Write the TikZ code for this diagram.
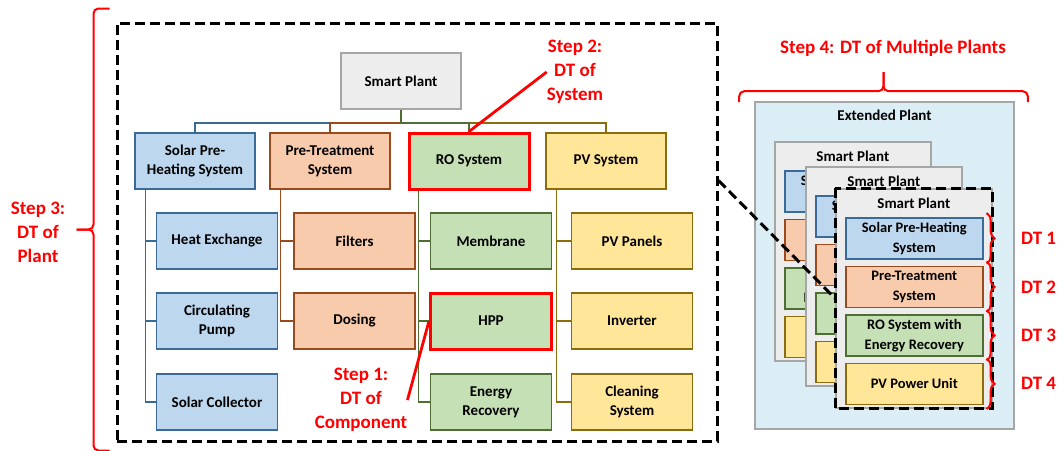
\documentclass[tikz,border=0pt]{standalone}
\usepackage{fontspec}
\setmainfont{Carlito}
\usetikzlibrary{calc,decorations.pathreplacing}
\definecolor{bluefill}{HTML}{BDD7EE}
\definecolor{blueline}{HTML}{3A6A98}
\definecolor{orangefill}{HTML}{F8CBAD}
\definecolor{orangeline}{HTML}{9A4A1C}
\definecolor{greenfill}{HTML}{C5E0B4}
\definecolor{greenline}{HTML}{4F6E33}
\definecolor{yellowfill}{HTML}{FFE699}
\definecolor{yellowline}{HTML}{8C6D0E}
\definecolor{grayfill}{HTML}{EDEDED}
\definecolor{grayline}{HTML}{A6A6A6}
\definecolor{skyfill}{HTML}{DCEEF5}
\definecolor{stepred}{HTML}{FF0000}
\tikzset{
  boxtext/.style={font=\fontsize{15}{19}\selectfont\bfseries,align=center},
  cell/.style={boxtext,line width=1.6pt,minimum width=120pt,minimum height=56pt},
  solarcell/.style={cell,draw=blueline,fill=bluefill},
  treatcell/.style={cell,draw=orangeline,fill=orangefill},
  rocell/.style={cell,draw=greenline,fill=greenfill},
  pvcell/.style={cell,draw=yellowline,fill=yellowfill},
  graycell/.style={cell,draw=grayline,fill=grayfill},
  picked/.style={draw=stepred,line width=3pt},
  slab/.style={minimum width=137pt,minimum height=41pt,anchor=north west,
    line width=1.6pt,align=center,font=\fontsize{14.5}{20}\selectfont\bfseries},
  solarwire/.style={blueline,line width=1.4pt},
  treatwire/.style={orangeline,line width=1.4pt},
  rowire/.style={greenline,line width=1.4pt},
  pvwire/.style={yellowline,line width=1.4pt},
  zoomline/.style={draw=black,line width=3pt,dash pattern=on 10pt off 5pt},
  steptext/.style={text=stepred,font=\fontsize{19}{24}\selectfont\bfseries,align=center,inner sep=0pt},
  stepline/.style={stepred,line width=2.8pt},
  bracket/.style={stepred,line width=2pt,rounded corners=5pt},
  dtbrace/.style={stepred,line width=2pt,decorate,decoration={brace,amplitude=8pt}}
}
\begin{document}
\begin{tikzpicture}[x=1pt,y=-1pt,every node/.style={inner sep=2pt}]
  \fill[white](0,0)rectangle(1060,450);
  \useasboundingbox(0,0)rectangle(1060,450);
  % plant level frame
  \node[zoomline,minimum width=600pt,minimum height=418pt](plantbox)at(417,232){};
  \node[graycell](sp)at(401,81){Smart Plant};
  \node[solarcell](solar)at(195,161){Solar Pre-\\Heating System};
  \node[treatcell](treat)at(330,161){Pre-Treatment\\System};
  \node[rocell,picked](rosys)at(469,161){RO System};
  \node[pvcell](pvsys)at(606,161){PV System};
  \draw[solarwire](sp.south)--++(0,13)-|(solar.north);
  \draw[treatwire](sp.south)--++(0,13)-|(treat.north);
  \draw[pvwire](sp.south)--++(0,13)-|(pvsys.north);
  \draw[rowire](sp.south)--++(0,13)-|(rosys.north);
  % components
  \node[solarcell,minimum width=121pt](hx)at(217,241){Heat Exchange};
  \node[solarcell,minimum width=121pt](pump)at(217,321){Circulating\\Pump};
  \node[solarcell,minimum width=121pt](collector)at(217,402){Solar Collector};
  \node[treatcell,minimum width=121pt](filters)at(354.5,241){Filters};
  \node[treatcell,minimum width=121pt](dosing)at(354.5,321){Dosing};
  \node[rocell,minimum width=121pt](membrane)at(491,241){Membrane};
  \node[rocell,picked,minimum width=121pt](hpp)at(491,321){HPP};
  \node[rocell,minimum width=121pt](recovery)at(491,402){Energy\\Recovery};
  \node[pvcell,minimum width=121pt](panels)at(632,241){PV Panels};
  \node[pvcell,minimum width=121pt](inverter)at(632,321){Inverter};
  \node[pvcell,minimum width=121pt](cleaning)at(632,402){Cleaning\\System};
  \foreach \c in {hx,pump,collector}
    \draw[solarwire]([xshift=11pt]solar.south west)|-(\c.west);
  \foreach \c in {filters,dosing}
    \draw[treatwire]([xshift=11pt]treat.south west)|-(\c.west);
  \foreach \c in {membrane,hpp,recovery}
    \draw[rowire]([xshift=11pt]rosys.south west)|-(\c.west);
  \foreach \c in {panels,inverter,cleaning}
    \draw[pvwire]([xshift=11pt]pvsys.south west)|-(\c.west);
  % steps 1-3
  \node[steptext](step1)at(361,400){Step 1:\\DT of\\Component};
  \draw[stepline](step1.east)--(hpp.west);
  \node[steptext](step2)at(575,72){Step 2:\\DT of\\System};
  \draw[stepline](step2.west)--(rosys.north);
  \node[steptext](step3)at(38,232){Step 3:\\DT of\\Plant};
  \coordinate(b3top)at([xshift=-6pt,yshift=13pt]plantbox.north west);
  \coordinate(b3bot)at([xshift=-6pt,yshift=-8pt]plantbox.south west);
  \coordinate(b3tip)at($(b3top)!.5!(b3bot)+(-33,0)$);
  \draw[bracket](b3top)--++(-16,0)|-($(b3tip)+(0,0)$);
  \draw[bracket](b3bot)--++(-16,0)|-(b3tip);
  % multiple plants
  \node[draw=grayline,fill=skyfill,line width=1.6pt,minimum width=259pt,
    minimum height=327pt](ext)at(884.5,265.5){};
  \node[boxtext](exttitle)at([yshift=-14pt]ext.north){Extended Plant};
  \foreach \x/\y/\n in {774/141/pa,805/166/pb,835/188/pc}{
    \node[draw=grayline,fill=grayfill,line width=1.6pt,minimum width=156pt,
      minimum height=219pt,anchor=north west](\n)at(\x,\y){};
    \node[boxtext]at([yshift=-15pt]\n.north){Smart Plant};
    \node[slab,draw=blueline,fill=bluefill](\n1)
      at([xshift=10pt,yshift=-29pt]\n.north west){Solar Pre-Heating\\System};
    \node[slab,draw=orangeline,fill=orangefill](\n2)
      at([yshift=-48.5pt]\n1.north west){Pre-Treatment\\System};
    \node[slab,draw=greenline,fill=greenfill](\n3)
      at([yshift=-48.5pt]\n2.north west){RO System with\\Energy Recovery};
    \node[slab,draw=yellowline,fill=yellowfill](\n4)
      at([yshift=-48.5pt]\n3.north west){PV Power Unit};
  }
  \draw[zoomline](pc.north west)rectangle(pc.south east);
  \coordinate(zoomfrom)at([yshift=-159pt]plantbox.north east);
  \draw[zoomline](zoomfrom)--(pc.west);
  \foreach \k in {1,2,3,4}{
    \draw[dtbrace]([xshift=3pt,yshift=4pt]pc\k.north east)
      --([xshift=3pt,yshift=-4pt]pc\k.south east);
    \node[steptext](dt\k)at([xshift=55pt]pc\k.east){DT \k};
  }
  \node[steptext](step4)at(893,48){Step 4: DT of Multiple Plants};
  \coordinate(b4left)at([xshift=-15pt,yshift=-1pt]ext.north west);
  \coordinate(b4right)at([xshift=13pt,yshift=-1pt]ext.north east);
  \coordinate(b4tip)at($(b4left)!.5!(b4right)+(0,-30)$);
  \draw[bracket](b4left)--++(0,-11)-|(b4tip);
  \draw[bracket](b4right)--++(0,-11)-|(b4tip);
\end{tikzpicture}
\end{document}
